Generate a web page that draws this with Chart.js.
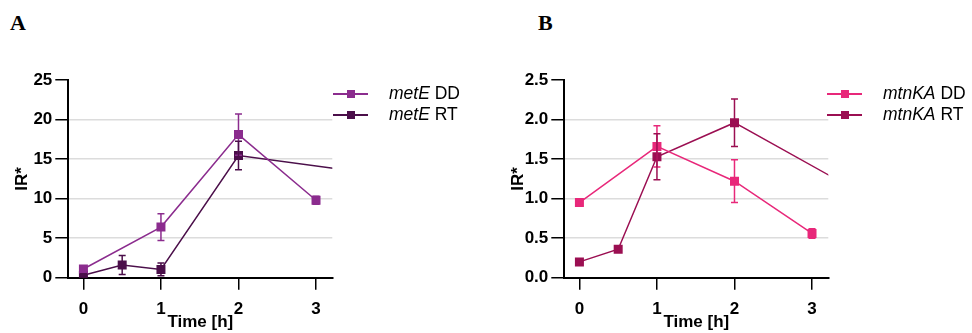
<!DOCTYPE html>
<html>
<head>
<meta charset="utf-8">
<script src="https://cdn.jsdelivr.net/npm/chart.js@4"></script>
<style>
  body { margin: 0; background: #fff; width: 972px; height: 333px; position: relative; overflow: hidden; font-family: "Liberation Sans", Arial, sans-serif; }
  .panel { position: absolute; top: 60px; width: 345px; height: 273px; }
  .tag { position: absolute; top: 10px; font: bold 22px "Liberation Serif", "Times New Roman", serif; }
  .legend { position: absolute; font-size: 17.5px; color: #000; }
  .legend div { height: 21px; line-height: 21px; position: relative; padding-left: 56px; white-space: nowrap; }
  .legend .ln { position: absolute; left: 0; top: 10px; width: 35px; height: 2px; }
  .legend .sq { position: absolute; left: 14px; top: 7px; width: 8px; height: 8px; }
</style>
</head>
<body>
<div class="tag" style="left:10px">A</div>
<div class="tag" style="left:538px">B</div>

<div class="panel" style="left:0"><canvas id="chartA"></canvas></div>
<div class="panel" style="left:496px"><canvas id="chartB"></canvas></div>

<div class="legend" style="left:333px; top:83px">
  <div><span class="ln" style="background:#8b2c8e"></span><span class="sq" style="background:#8b2c8e"></span><i>metE</i> DD</div>
  <div><span class="ln" style="background:#4b0f4a"></span><span class="sq" style="background:#4b0f4a"></span><i>metE</i> RT</div>
</div>
<div class="legend" style="left:827px; top:83px">
  <div><span class="ln" style="background:#e8287a"></span><span class="sq" style="background:#e8287a"></span><i>mtnKA</i> DD</div>
  <div><span class="ln" style="background:#9b0f52"></span><span class="sq" style="background:#9b0f52"></span><i>mtnKA</i> RT</div>
</div>

<script>
// time points [h]
const time_dd = [0, 1, 2, 3];
const time_rt = [0, 0.5, 1, 2, 4];   // last RT point lies outside the plotted range

// panel A: metE
const metE_dd = [1.1, 6.4, 18.1, 9.8];
const metE_dd_err = [0.3, 1.7, 2.6, 0.5];
const metE_rt = [0.3, 1.6, 1.05, 15.45, 12.8];
const metE_rt_err = [0.2, 1.2, 0.8, 1.8, 0];

// panel B: mtnKA
const mtnKA_dd = [0.95, 1.66, 1.22, 0.56];
const mtnKA_dd_err = [0.03, 0.26, 0.27, 0.06];
const mtnKA_rt = [0.2, 0.36, 1.53, 1.96, 0.87];
const mtnKA_rt_err = [0.02, 0.03, 0.29, 0.3, 0];

const x_ticks = [0, 1, 2, 3];

function pts(xs, ys, errs) {
  return xs.map((x, i) => ({ x: x, y: ys[i], err: errs[i] }));
}

const errorBars = {
  id: 'errorBars',
  afterDatasetsDraw(chart) {
    const ctx = chart.ctx, xs = chart.scales.x, ys = chart.scales.y;
    const area = chart.chartArea;
    ctx.save();
    ctx.beginPath();
    ctx.rect(area.left, area.top - 10, area.right - area.left, area.bottom - area.top + 10);
    ctx.clip();
    chart.data.datasets.forEach(ds => {
      ctx.strokeStyle = ds.borderColor;
      ctx.lineWidth = 1.5;
      ds.data.forEach(p => {
        if (!p.err) return;
        const px = xs.getPixelForValue(p.x);
        const top = ys.getPixelForValue(p.y + p.err);
        const bot = ys.getPixelForValue(p.y - p.err);
        ctx.beginPath();
        ctx.moveTo(px, top); ctx.lineTo(px, bot);
        ctx.moveTo(px - 3.5, top); ctx.lineTo(px + 3.5, top);
        ctx.moveTo(px - 3.5, bot); ctx.lineTo(px + 3.5, bot);
        ctx.stroke();
      });
    });
    ctx.restore();
  }
};

const boldFont = { size: 17, weight: 'bold', family: '"Liberation Sans", Arial' };

function makeChart(id, sets, ymax, ystep, decimals) {
  new Chart(document.getElementById(id), {
    type: 'scatter',
    data: {
      datasets: sets.map(s => ({
        data: s.data,
        showLine: true,
        borderColor: s.color,
        backgroundColor: s.color,
        borderWidth: 1.5,
        pointStyle: 'rect',
        pointRadius: 5.3,
        pointHoverRadius: 5.3
      }))
    },
    options: {
      responsive: false,
      animation: false,
      events: [],
      layout: { padding: { top: 20, right: 12.7, left: 0, bottom: 0 } },
      plugins: { legend: { display: false }, tooltip: { enabled: false } },
      scales: {
        x: {
          type: 'linear', min: -0.195, max: 3.21,
          afterBuildTicks: s => { s.ticks = x_ticks.map(v => ({ value: v })); },
          afterFit: s => { s.height = 55.3; },
          grid: { drawOnChartArea: false, color: '#000', tickColor: '#000', tickLength: 12, lineWidth: 1.5 },
          border: { color: '#000', width: 2 },
          ticks: { color: '#000', font: boldFont, padding: 9 },
          title: { display: true, text: 'Time [h]', color: '#000', font: boldFont, padding: { top: 0, bottom: 0 } }
        },
        y: {
          min: 0, max: ymax,
          ticks: { stepSize: ystep, color: '#000', font: boldFont, padding: 3,
                   callback: v => v.toFixed(decimals) },
          afterFit: s => { s.width = 68.3; },
          grid: {
            color: c => (c.tick && (c.tick.value === 0 || c.tick.value === ymax)) ? 'rgba(0,0,0,0)' : '#dcdcdc',
            tickColor: '#000', tickLength: 13, lineWidth: 1.5
          },
          border: { color: '#000', width: 2 },
          title: { display: true, text: 'IR*', color: '#000', font: boldFont, padding: { top: 12, bottom: 0 } }
        }
      }
    },
    plugins: [errorBars]
  });
}

document.getElementById('chartA').width = 345; document.getElementById('chartA').height = 273;
document.getElementById('chartB').width = 345; document.getElementById('chartB').height = 273;

makeChart('chartA', [
  { data: pts(time_dd, metE_dd, metE_dd_err), color: '#8b2c8e' },
  { data: pts(time_rt, metE_rt, metE_rt_err), color: '#4b0f4a' }
], 25, 5, 0);

makeChart('chartB', [
  { data: pts(time_dd, mtnKA_dd, mtnKA_dd_err), color: '#e8287a' },
  { data: pts(time_rt, mtnKA_rt, mtnKA_rt_err), color: '#9b0f52' }
], 2.5, 0.5, 1);
</script>
</body>
</html>
